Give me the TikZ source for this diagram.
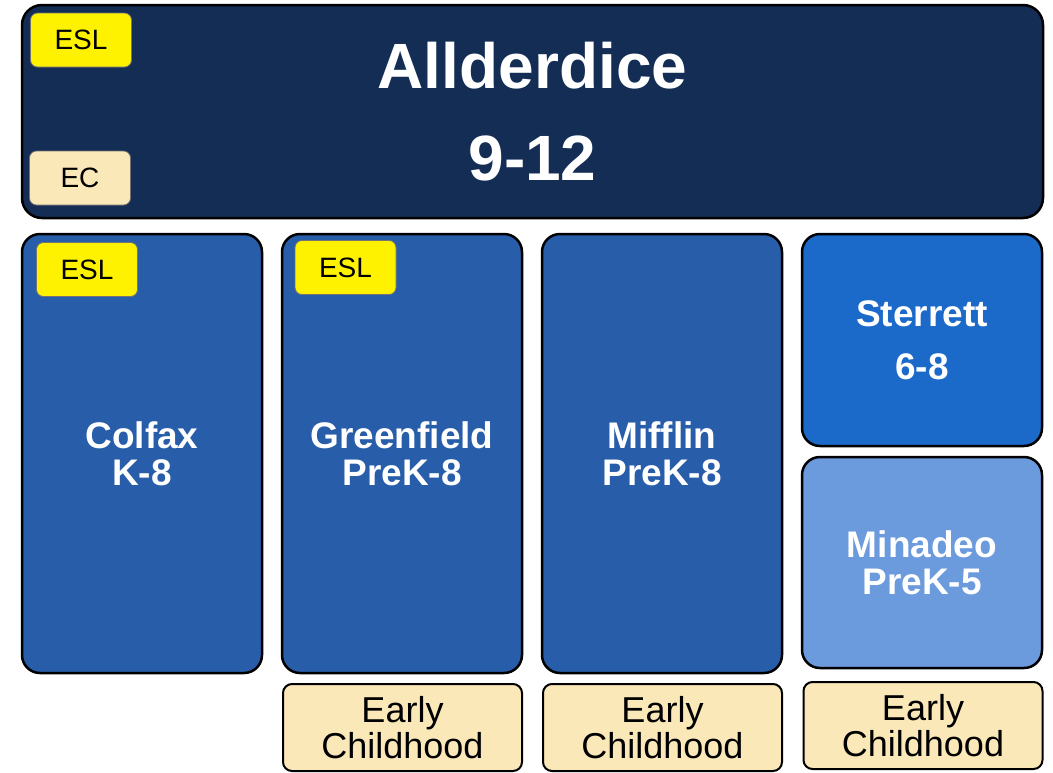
\documentclass[tikz,border=0pt]{standalone}
\usepackage{fontspec}
\setmainfont{Liberation Sans}
\definecolor{navy}{HTML}{142D55}
\definecolor{schoolblue}{HTML}{275DA9}
\definecolor{middleblue}{HTML}{1B69C8}
\definecolor{lightblue}{HTML}{6B9ADD}
\definecolor{cream}{HTML}{FBE8B8}
\tikzstyle{district}=[rectangle,rounded corners=20pt,draw=black,line width=2.5pt,fill=navy,text=white,minimum width=1021pt,minimum height=213pt,align=center,font=\bfseries\fontsize{64}{92}\selectfont]
\tikzstyle{school}=[rectangle,rounded corners=18pt,draw=black,line width=2.5pt,text=white,minimum width=240pt,align=center,font=\bfseries\fontsize{37}{37}\selectfont]
\tikzstyle{tag}=[rectangle,rounded corners=7pt,draw=black!55,line width=0.8pt,minimum width=101pt,minimum height=54pt,font=\fontsize{28}{28}\selectfont]
\tikzstyle{early}=[rectangle,rounded corners=9pt,draw=black,line width=2pt,fill=cream,minimum width=239pt,minimum height=87pt,align=center,font=\fontsize{36}{36}\selectfont]

\begin{document}
\begin{tikzpicture}[x=1pt,y=-1pt]
	\useasboundingbox (0,0) rectangle (1053,772);
	%High school
	\node[district] (allderdice) at (532.5,111.5) {Allderdice\\9-12};
	%K-8 schools
	\foreach \pos/\name/\label in {{(142,453.5)/colfax/Colfax\\K-8},
			{(402,453.5)/greenfield/Greenfield\\PreK-8},
			{(662,453.5)/mifflin/Mifflin\\PreK-8}}
		\node[school,fill=schoolblue,minimum height=439pt] (\name) at \pos {\label};
	%Right column
	\node[school,fill=middleblue,minimum height=212pt,font=\bfseries\fontsize{37}{53}\selectfont] (sterrett) at (922,340) {Sterrett\\6-8};
	\node[school,fill=lightblue,minimum height=211pt] (minadeo) at (922,562.5) {Minadeo\\PreK-5};
	%Program tags
	\foreach \pos/\name in {{(81,40)/eslA}, {(87,269.5)/eslC}, {(345.5,267.5)/eslG}}
		\node[tag,fill=yellow] (\name) at \pos {ESL};
	\node[tag,fill=cream] (ecA) at (80,178) {EC};
	%Early childhood
	\foreach \pos/\name in {{(402.5,727.5)/earlyG}, {(662.5,727.5)/earlyM}, {(923,725.5)/earlyN}}
		\node[early] (\name) at \pos {Early\\Childhood};
\end{tikzpicture}
\end{document}
